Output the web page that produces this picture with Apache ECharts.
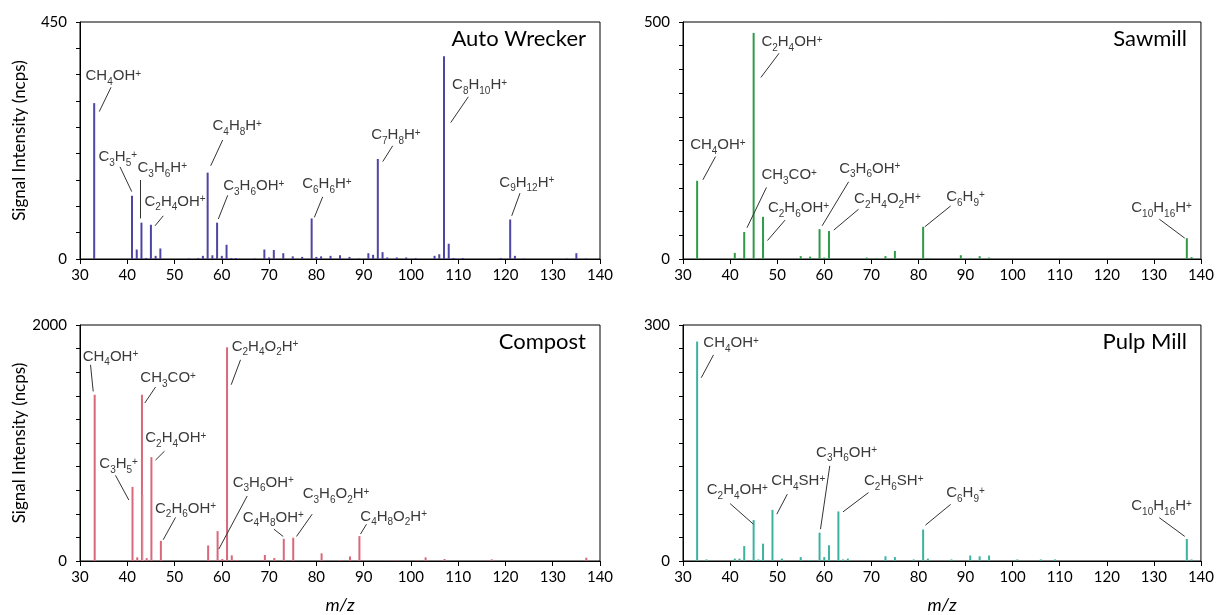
<!DOCTYPE html>
<html><head><meta charset="utf-8">
<script src="https://cdn.jsdelivr.net/npm/echarts@6/dist/echarts.min.js"></script>
<style>html,body{margin:0;padding:0;background:#fff}#c{width:1217px;height:615px}</style>
</head><body><div id="c"></div>
<script>
// ---- data (m/z and signal intensity, ncps) ----
const autoMz  = [33,41,42,43,44,45,46,47,53,55,56,57,58,59,60,61,62,63,67,69,70,71,73,75,77,79,80,81,83,85,87,89,91,92,93,94,95,97,99,101,105,106,107,108,109,111,119,121,122,124,133,135,137];
const autoVal = [296,120,18,69,2,65,6,20,1,2,6,164,7,69,6,27,2,2,1,18,3,17,11,5,4,77,4,5,6,7,4,1,11,8,190,13,3,3,3,2,6,9,385,29,2,2,2,75,6,1,1,11,1];

const sawMz  = [33,41,42,43,45,47,55,57,59,60,61,69,71,73,75,81,82,89,91,93,95,137,138];
const sawVal = [165,13,2,57,477,89,6,5,63,3,59,3,2,6,17,68,2,8,2,6,3,44,4];

const compMz  = [33,41,42,43,44,45,47,57,59,60,61,62,63,69,71,73,75,81,85,87,89,95,97,101,103,107,117,137];
const compVal = [1409,628,31,1409,24,880,171,132,253,17,1811,48,8,51,25,188,197,65,6,39,211,3,6,6,31,17,14,28];
const compExtraMz  = [43.3];
const compExtraVal = [560];

const pulpMz  = [33,35,41,42,43,45,46,47,49,51,55,57,59,60,61,63,64,65,73,75,79,81,82,87,91,93,95,101,106,109,137,138];
const pulpVal = [279,2,3,3,19,52,2,22,65,3,5,1,36,5,20,63,2,3,6,5,2,40,3,2,7,6,7,2,2,2,28,2];

const xTicks = [30,140,10];
const panelTitles = ['Auto Wrecker','Sawmill','Compost','Pulp Mill'];
const yMaxes = [450,500,2000,300];
const yIntervals = [50,50,200,30];

// ---- annotations: label anchor [m/z, ncps] and leader line ----
const autoNotes = [
  {t:'CH4OH+',  at:[31.06,347], a:[36.56,326], b:[34.08,280]},
  {t:'C3H5+',   at:[33.8,194],  a:[38.46,175], b:[40.94,128]},
  {t:'C3H6H+',  at:[42.06,173], a:[42.84,150], b:[42.84,77]},
  {t:'C2H4OH+', at:[43.54,109], a:[47.62,82],  b:[45.87,63]},
  {t:'C4H8H+',  at:[57.92,252], a:[60.19,226], b:[57.65,177]},
  {t:'C3H6OH+', at:[60.19,139], a:[61.25,121], b:[59.26,76]},
  {t:'C6H6H+',  at:[76.9,142],  a:[81.34,118], b:[79.57,79]},
  {t:'C7H8H+',  at:[91.5,235],  a:[96.15,215], b:[94.04,185]},
  {t:'C8H10H+', at:[108.6,330], a:[112.15,308],b:[108.42,259]},
  {t:'C9H12H+', at:[118.6,145], a:[123.08,125],b:[121.33,82]}
];
const sawNotes = [
  {t:'C2H4OH+',  at:[46.54,458], a:[50.4,434],  b:[46.54,383]},
  {t:'CH4OH+',   at:[31.41,240], a:[36.9,216],  b:[34.22,167]},
  {t:'CH3CO+',   at:[46.54,177], a:[47.73,151], b:[43.59,66]},
  {t:'C2H6OH+',  at:[47.94,107], a:[51.67,82],  b:[47.94,39]},
  {t:'C3H6OH+',  at:[63.07,191], a:[65.18,163], b:[59.55,70]},
  {t:'C2H4O2H+', at:[66.23,127], a:[67.29,105], b:[62.02,61]},
  {t:'C6H9+',    at:[85.79,131], a:[86.85,112], b:[81.36,68]},
  {t:'C10H16H+', at:[125.1,107], a:[131.16,84], b:[136.56,44]}
];
const compNotes = [
  {t:'CH4OH+',   at:[30.36,1733], a:[32.12,1662], b:[32.69,1437]},
  {t:'CH3CO+',   at:[42.55,1550], a:[45.87,1474], b:[43.6,1339]},
  {t:'C2H4OH+',  at:[43.6,1044],  a:[47.77,931],  b:[45.87,855]},
  {t:'C3H5+',    at:[33.87,819],  a:[37.4,726],   b:[40.22,517]},
  {t:'C2H6OH+',  at:[45.65,445],  a:[50.1,369],   b:[47.49,180]},
  {t:'C2H4O2H+', at:[61.88,1817], a:[63.85,1705], b:[61.88,1494]},
  {t:'C3H6OH+',  at:[62.09,664],  a:[65.27,551],  b:[59.26,101]},
  {t:'C4H8OH+',  at:[64.2,369],   a:[70.9,270],   b:[72.88,208]},
  {t:'C3H6O2H+', at:[76.9,565],   a:[79.01,397],  b:[75.69,208]},
  {t:'C4H8O2H+', at:[89.09,377],  a:[90.5,312],   b:[89.23,228]}
];
const pulpNotes = [
  {t:'CH4OH+',  at:[34.22,277], a:[36.48,262], b:[33.88,233]},
  {t:'C2H4OH+', at:[34.94,90],  a:[40.0,73],   b:[44.92,47]},
  {t:'CH4SH+',  at:[48.65,102], a:[52.16,85],  b:[49.92,59.5]},
  {t:'C3H6OH+', at:[58.15,138], a:[61.17,121], b:[59.2,40.5]},
  {t:'C2H6SH+', at:[68.34,102], a:[69.4,87],   b:[63.97,62.4]},
  {t:'C6H9+',   at:[85.79,86],  a:[86.85,72],  b:[81.49,45.6]},
  {t:'C10H16H+',at:[125.1,70],  a:[131.16,55], b:[136.56,31.3]}
];

function fmt(s){ return s.replace(/(\d+)/g,'{s|$1}').replace(/\+/g,'{p|+}'); }
function pairs(xs, ys){ return xs.map((x,i)=>[x, ys[i]]); }

const grids = [
  {left:80, top:22, width:520, height:237},
  {left:683, top:22, width:522, height:237},
  {left:80, top:325, width:520, height:237},
  {left:683, top:325, width:522, height:237}
];
const colors = ['#4f45a4','#2f9a47','#d9687a','#3cb3a0'];
const datas = [pairs(autoMz,autoVal), pairs(sawMz,sawVal), pairs(compMz,compVal), pairs(pulpMz,pulpVal)];
const notes = [autoNotes, sawNotes, compNotes, pulpNotes];
const tickFont = 'Lato';

const option = {
  animation:false,
  backgroundColor:'#fff',
  grid: grids.map(g=>Object.assign({show:true, borderColor:'#000', borderWidth:1, backgroundColor:'transparent'}, g)),
  title: panelTitles.map((t,i)=>({
    text:t, right: i%2===0 ? 631 : 30, top: i<2 ? 26 : 329, padding:0,
    textStyle:{fontFamily:tickFont, fontSize:22, fontWeight:'normal', color:'#000', lineHeight:26}
  })),
  xAxis: grids.map((g,i)=>({
    type:'value', gridIndex:i, min:xTicks[0], max:xTicks[1], interval:xTicks[2],
    name: i>=2 ? 'm/z' : '', nameLocation:'middle', nameGap:35,
    nameTextStyle:{fontFamily:tickFont, fontSize:18, fontStyle:'italic', color:'#000'},
    axisLine:{onZero:false, lineStyle:{color:'#000', width:1}},
    axisTick:{show:true, inside:false, length:5, lineStyle:{color:'#000'}},
    axisLabel:{fontFamily:tickFont, fontSize:15, color:'#000', margin:9},
    splitLine:{show:false}
  })),
  yAxis: grids.map((g,i)=>({
    type:'value', gridIndex:i, min:0, max:yMaxes[i], interval:yIntervals[i],
    name: i%2===0 ? 'Signal Intensity (ncps)' : '', nameLocation:'middle', nameGap:52, nameRotate:90,
    nameTextStyle:{fontFamily:tickFont, fontSize:17, color:'#000'},
    axisLine:{show:true, lineStyle:{color:'#000', width:1}},
    axisTick:{show:true, inside:false, length:4, lineStyle:{color:'#000'}},
    axisLabel:{fontFamily:tickFont, fontSize:15, color:'#000', margin:13,
      formatter:v => (v===0 || v===yMaxes[i]) ? String(v) : ''},
    splitLine:{show:false}
  })),
  series: []
};

datas.forEach((d,i)=>{
  option.series.push({
    type:'bar', xAxisIndex:i, yAxisIndex:i, data:d, barWidth:2,
    itemStyle:{color:colors[i]}, silent:true, emphasis:{disabled:true},
    markLine:{
      silent:true, symbol:['none','none'], animation:false,
      lineStyle:{color:'#333', width:1, type:'solid'}, label:{show:false},
      emphasis:{disabled:true},
      data: notes[i].map(n=>[{coord:n.a},{coord:n.b}])
    },
    markPoint:{
      silent:true, symbol:'rect', symbolSize:1, itemStyle:{color:'rgba(0,0,0,0)'},
      animation:false,
      label:{show:true, position:'right', distance:0, color:'#3a3a3a',
        fontFamily:'Liberation Sans', fontSize:15, lineHeight:22,
        formatter:p=>fmt(p.name),
        rich:{
          s:{fontSize:10, fontFamily:'Liberation Sans', color:'#3a3a3a', verticalAlign:'bottom'},
          p:{fontSize:10, fontFamily:'Liberation Sans', color:'#3a3a3a', verticalAlign:'top', padding:[4,0,0,0]}
        }},
      data: notes[i].map(n=>({name:n.t, coord:n.at}))
    }
  });
});
option.series.push({
  type:'bar', xAxisIndex:2, yAxisIndex:2, data:pairs(compExtraMz, compExtraVal), barWidth:1,
  itemStyle:{color:'#e59aa6'}, silent:true, barGap:'-100%'
});

const chart = echarts.init(document.getElementById('c'), null, {renderer:'canvas'});
chart.setOption(option);
</script></body></html>
